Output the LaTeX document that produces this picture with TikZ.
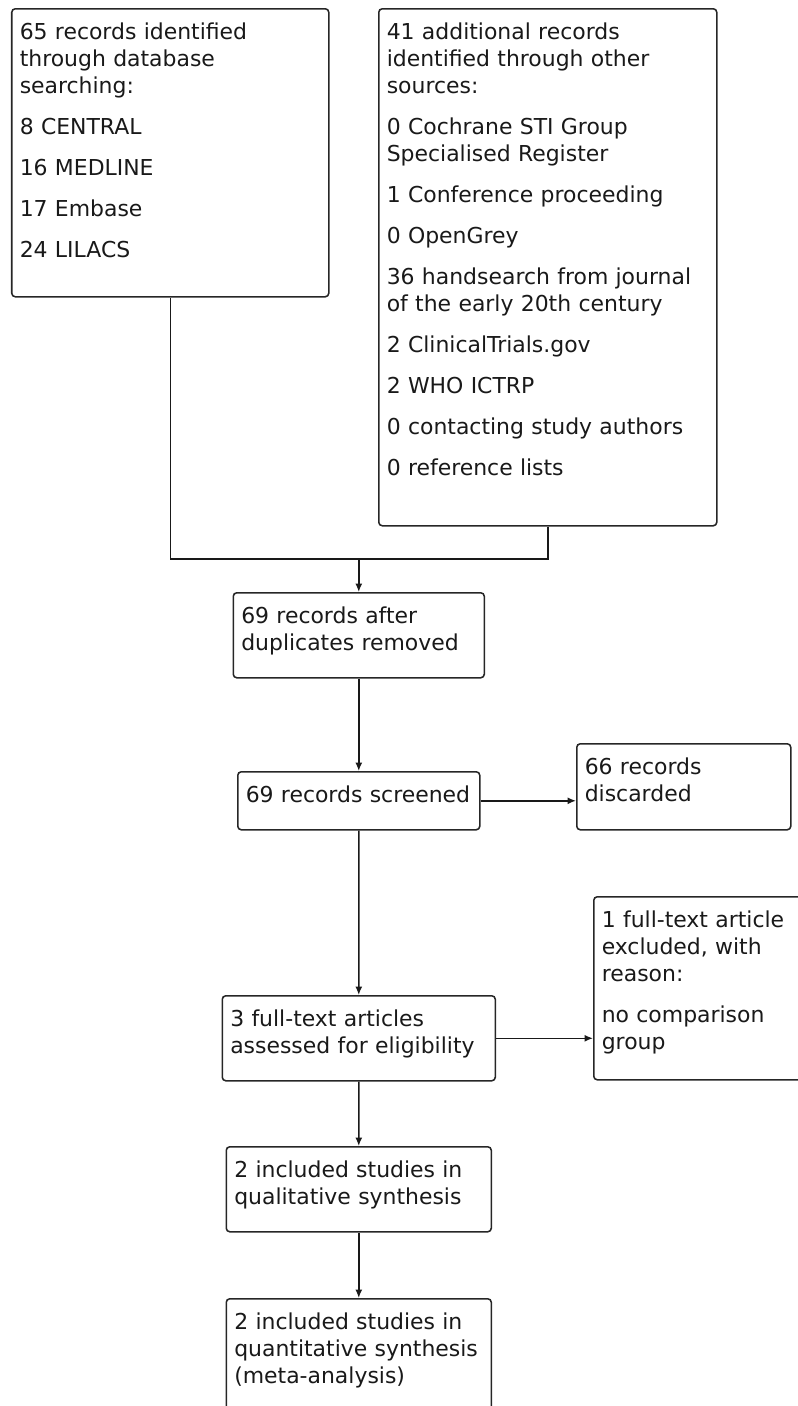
\documentclass[tikz,border=0pt]{standalone}
\usepackage{fontspec}
\setmainfont{DejaVu Sans}
\usetikzlibrary{arrows.meta, positioning, calc}

\begin{document}
\begin{tikzpicture}[font=\fontsize{15.6pt}{19.2pt}\selectfont]
            % Define styles
            \tikzstyle{box} = [rectangle, draw=black!85, line width=1.1pt, rounded corners=2.5pt, anchor=north west, align=left, inner xsep=0.2cm, inner ysep=0pt, text height=0.775cm, text=black!90]
            \tikzstyle{line} = [draw=black!90, line width=1.1pt]
            \tikzstyle{arrow} = [line, -{Latex[length=6pt, width=5pt]}]

            % Page frame
            \clip (0,0) rectangle (19.95,-35.15);

            % Identification
            \node[box, text width=7.525cm, text depth=6.425cm] (search) at (0.275,-0.2)
                {65 records identified\\through database\\searching:\\[0.35cm]8 CENTRAL\\[0.35cm]16 MEDLINE\\[0.35cm]17 Embase\\[0.35cm]24 LILACS};
            \node[box, text width=8.05cm, text depth=12.15cm] (other) at (9.45,-0.2)
                {41 additional records\\identified through other\\sources:\\[0.35cm]0 Cochrane STI Group\\Specialised Register\\[0.35cm]1 Conference proceeding\\[0.35cm]0 OpenGrey\\[0.35cm]36 handsearch from journal\\of the early 20th century\\[0.35cm]2 ClinicalTrials.gov\\[0.35cm]2 WHO ICTRP\\[0.35cm]0 contacting study authors\\[0.35cm]0 reference lists};

            % Screening
            \node[box, text width=5.875cm, text depth=1.35cm] (dedup) at (5.8125,-14.8)
                {69 records after\\duplicates removed};
            \node[box, text width=5.65cm, text depth=0.675cm] (screen) at (5.925,-19.275)
                {69 records screened};
            \node[box, text width=4.95cm, text depth=1.375cm] (discard) at (14.4,-18.575)
                {66 records\\discarded};

            % Eligibility
            \node[box, text width=6.425cm, text depth=1.35cm] (fulltext) at (5.5375,-24.875)
                {3 full-text articles\\assessed for eligibility};
            \node[box, text width=5.35cm, text depth=3.8cm] (exclude) at (14.825,-22.4)
                {1 full-text article\\excluded, with\\reason:\\[0.35cm]no comparison\\group};

            % Included
            \node[box, text width=6.225cm, text depth=1.35cm] (qual) at (5.6375,-28.65)
                {2 included studies in\\qualitative synthesis};
            \node[box, text width=6.225cm, text depth=2.025cm] (quant) at (5.6375,-32.45)
                {2 included studies in\\quantitative synthesis\\(meta-analysis)};

            % Connections
            \coordinate (merge) at (dedup.north |- 0,-13.975);
            \draw[line] (search.south) |- (merge);
            \draw[line] (other.south) |- (merge);
            \draw[arrow] (merge) -- (dedup.north);
            \draw[arrow] (dedup.south) -- (screen.north);
            \draw[arrow] (screen.east) -- (screen.east -| discard.west);
            \draw[arrow] (screen.south) -- (fulltext.north);
            \draw[arrow] (fulltext.east) -- (fulltext.east -| exclude.west);
            \draw[arrow] (fulltext.south) -- (qual.north);
            \draw[arrow] (qual.south) -- (quant.north);
\end{tikzpicture}
\end{document}
